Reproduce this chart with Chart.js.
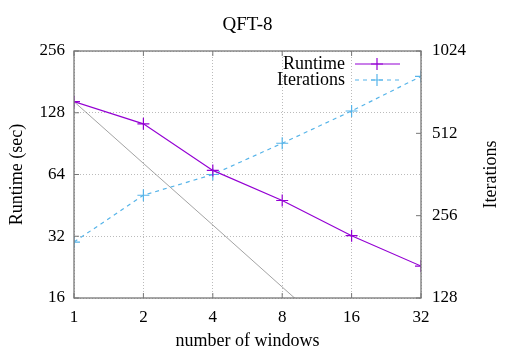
<!DOCTYPE html>
<html>
<head>
<meta charset="utf-8">
<script src="https://cdn.jsdelivr.net/npm/chart.js@4/dist/chart.umd.min.js"></script>
<style>
  html, body { margin: 0; padding: 0; background: #fff; }
  #wrap { width: 531px; height: 354px; }
</style>
</head>
<body>
<div id="wrap"><canvas id="qftChart"></canvas></div>
<script>
// data
const windows = [1, 2, 4, 8, 16, 32];
const runtime = [145, 113, 67, 47.8, 32.2, 22.9];
const iterations = [205, 304, 362, 471, 618, 827];
const idealRuntime = [145, 72.5, 36.3, 18.1, 9.06, 4.53];

const xTicks = [1, 2, 4, 8, 16, 32];
const yTicks = [16, 32, 64, 128, 256];
const y2Ticks = [128, 256, 512, 1024];

const FONT = "'Liberation Serif', 'DejaVu Serif', serif";
const PURPLE = '#9400d3';
const BLUE = '#56b4e9';

const pts = (ys) => windows.map((x, i) => ({ x: x, y: ys[i] }));

// box, inward ticks, title, right label and legend (gnuplot look)
const gnuplotFrame = {
    id: 'gnuplotFrame',
    afterDraw(chart) {
        const ctx = chart.ctx;
        const a = chart.chartArea;
        const sx = chart.scales.x, sy = chart.scales.y, sy2 = chart.scales.y2;
        ctx.save();
        ctx.strokeStyle = '#777';
        ctx.lineWidth = 1.3;
        ctx.strokeRect(a.left, a.top, a.right - a.left, a.bottom - a.top);
        ctx.lineWidth = 1;
        ctx.beginPath();
        xTicks.forEach(v => {
            const px = sx.getPixelForValue(v);
            ctx.moveTo(px, a.bottom); ctx.lineTo(px, a.bottom - 5);
            ctx.moveTo(px, a.top); ctx.lineTo(px, a.top + 5);
        });
        yTicks.forEach(v => {
            const py = sy.getPixelForValue(v);
            ctx.moveTo(a.left, py); ctx.lineTo(a.left + 5, py);
        });
        y2Ticks.forEach(v => {
            const py = sy2.getPixelForValue(v);
            ctx.moveTo(a.right, py); ctx.lineTo(a.right - 5, py);
        });
        ctx.stroke();

        ctx.fillStyle = '#000';
        ctx.font = '19px ' + FONT;
        ctx.textAlign = 'center';
        ctx.textBaseline = 'middle';
        ctx.fillText('QFT-8', (a.left + a.right) / 2, 25);

        ctx.font = '18px ' + FONT;
        ctx.save();
        ctx.translate(491, (a.top + a.bottom) / 2);
        ctx.rotate(-Math.PI / 2);
        ctx.fillText('Iterations', 0, 0);
        ctx.restore();

        // legend
        const items = [
            { label: 'Runtime', color: PURPLE, dash: [], y: 64 },
            { label: 'Iterations', color: BLUE, dash: [4, 4], y: 80 }
        ];
        items.forEach(it => {
            ctx.fillStyle = '#000';
            ctx.textAlign = 'right';
            ctx.fillText(it.label, 345, it.y);
            ctx.strokeStyle = it.color;
            ctx.lineWidth = 1.2;
            ctx.setLineDash(it.dash);
            ctx.beginPath();
            ctx.moveTo(355, it.y); ctx.lineTo(400, it.y);
            ctx.stroke();
            ctx.setLineDash([]);
            ctx.beginPath();
            ctx.moveTo(371, it.y); ctx.lineTo(383, it.y);
            ctx.moveTo(377, it.y - 6); ctx.lineTo(377, it.y + 6);
            ctx.stroke();
        });
        ctx.restore();
    }
};

new Chart(document.getElementById('qftChart'), {
    type: 'line',
    data: {
        datasets: [
            {
                label: 'Runtime',
                data: pts(runtime),
                yAxisID: 'y',
                borderColor: PURPLE,
                backgroundColor: PURPLE,
                borderWidth: 1.2,
                pointStyle: 'cross',
                pointRadius: 6,
                pointBorderWidth: 1.2,
                tension: 0
            },
            {
                label: 'Iterations',
                data: pts(iterations),
                yAxisID: 'y2',
                borderColor: BLUE,
                backgroundColor: BLUE,
                borderWidth: 1.2,
                borderDash: [4, 4],
                pointStyle: 'cross',
                pointRadius: 6,
                pointBorderWidth: 1.2,
                tension: 0
            },
            {
                label: 'ideal',
                data: pts(idealRuntime),
                yAxisID: 'y',
                borderColor: 'rgba(90,90,90,0.8)',
                borderWidth: 0.7,
                pointRadius: 0,
                tension: 0
            }
        ]
    },
    options: {
        responsive: true,
        maintainAspectRatio: false,
        animation: false,
        layout: { padding: { top: 51, left: 0, right: 0, bottom: 0 } },
        plugins: {
            legend: { display: false },
            title: { display: false },
            tooltip: { enabled: false }
        },
        scales: {
            x: {
                type: 'logarithmic',
                min: 1,
                max: 32,
                afterBuildTicks: (s) => { s.ticks = xTicks.map(v => ({ value: v })); },
                afterFit: (s) => { s.height = 56; },
                ticks: {
                    color: '#000',
                    font: { family: FONT, size: 17 },
                    padding: 9,
                    maxRotation: 0,
                    callback: (v) => String(v)
                },
                grid: { color: '#bbb', drawTicks: false },
                border: { display: false, dash: [1, 2] },
                title: {
                    display: true,
                    text: 'number of windows',
                    color: '#000',
                    font: { family: FONT, size: 18 },
                    padding: { top: 0, bottom: 2 }
                }
            },
            y: {
                type: 'logarithmic',
                position: 'left',
                min: 16,
                max: 256,
                afterBuildTicks: (s) => { s.ticks = yTicks.map(v => ({ value: v })); },
                afterFit: (s) => { s.width = 74; },
                ticks: {
                    color: '#000',
                    font: { family: FONT, size: 17 },
                    padding: 9,
                    callback: (v) => String(v)
                },
                grid: { color: '#bbb', drawTicks: false },
                border: { display: false, dash: [1, 2] },
                title: {
                    display: true,
                    text: 'Runtime (sec)',
                    color: '#000',
                    font: { family: FONT, size: 18 },
                    padding: { top: 6, bottom: 0 }
                }
            },
            y2: {
                type: 'logarithmic',
                position: 'right',
                min: 128,
                max: 1024,
                afterBuildTicks: (s) => { s.ticks = y2Ticks.map(v => ({ value: v })); },
                afterFit: (s) => { s.width = 110; },
                ticks: {
                    color: '#000',
                    font: { family: FONT, size: 17 },
                    padding: 11,
                    callback: (v) => String(v)
                },
                grid: { display: false, drawTicks: false },
                border: { display: false }
            }
        }
    },
    plugins: [gnuplotFrame]
});
</script>
</body>
</html>
